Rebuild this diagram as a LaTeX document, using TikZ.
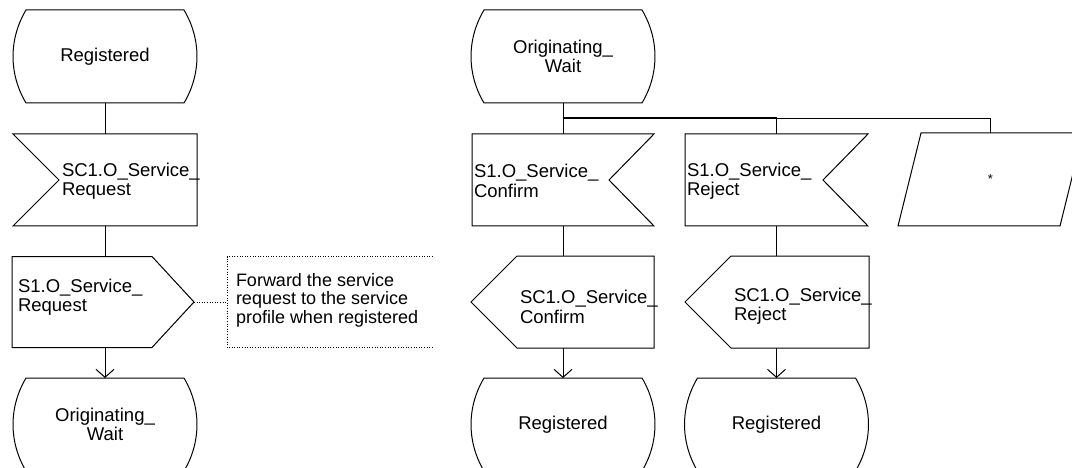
\documentclass[tikz,border=0pt]{standalone}
\usepackage{fontspec}
\setmainfont{Liberation Sans}
\usetikzlibrary{arrows.meta}
\newcommand\sdlfont{\fontsize{18.5}{19.5}\selectfont}
\newcommand\sdlcfont{\fontsize{18}{18.5}\selectfont}
\tikzset{
  ln/.style={line width=1pt},
  arr/.style={ln,-{Straight Barb[length=8pt,width=18pt,line width=1pt]}},
  box/.style={inner sep=0pt, outer sep=0pt},
  txt/.style={inner sep=0pt, outer sep=0pt, font=\sdlfont, align=left, anchor=west},
  sdlstate/.style={box, align=center, font=\sdlfont,
    append after command={\pgfextra{\draw[ln] (\tikzlastnode.north east)
      .. controls +(17.3,29) and +(17.3,-29) .. (\tikzlastnode.south east)
      -- (\tikzlastnode.south west)
      .. controls +(-17.3,-29) and +(-17.3,29) .. (\tikzlastnode.north west) -- cycle;}}},
  inputL/.style={box,
    append after command={\pgfextra{\draw[ln] (\tikzlastnode.north west) -- (\tikzlastnode.north east)
      -- (\tikzlastnode.south east) -- (\tikzlastnode.south west)
      -- ([xshift=46pt]\tikzlastnode.west) -- cycle;}}},
  inputR/.style={box,
    append after command={\pgfextra{\draw[ln] (\tikzlastnode.north west) -- (\tikzlastnode.north east)
      -- ([xshift=-45pt]\tikzlastnode.east) -- (\tikzlastnode.south east)
      -- (\tikzlastnode.south west) -- cycle;}}},
  outputR/.style={box,
    append after command={\pgfextra{\draw[ln] (\tikzlastnode.north west) -- ([xshift=-42pt]\tikzlastnode.north east)
      -- (\tikzlastnode.east) -- ([xshift=-42pt]\tikzlastnode.south east)
      -- (\tikzlastnode.south west) -- cycle;}}},
  outputL/.style={box,
    append after command={\pgfextra{\draw[ln] (\tikzlastnode.west) -- ([xshift=46pt]\tikzlastnode.north west)
      -- (\tikzlastnode.north east) -- (\tikzlastnode.south east)
      -- ([xshift=46pt]\tikzlastnode.south west) -- cycle;}}},
  commentbox/.style={box,
    append after command={\pgfextra{\draw[line width=0.9pt, dash pattern=on 1pt off 1.6pt] (\tikzlastnode.north east) -- (\tikzlastnode.north west)
      -- (\tikzlastnode.south west) -- (\tikzlastnode.south east);}}},
  para/.style={box, font=\fontsize{13}{14}\selectfont,
    append after command={\pgfextra{\draw[ln] ([xshift=23pt]\tikzlastnode.north west) -- (\tikzlastnode.north east)
      -- ([xshift=-23pt]\tikzlastnode.south east) -- (\tikzlastnode.south west) -- cycle;}}},
}
\begin{document}
\begin{tikzpicture}[x=1pt,y=-1pt]
\useasboundingbox (0,0) rectangle (1072,468);
% left column
\node[sdlstate, minimum width=158pt, minimum height=93pt] (s1) at (105,56.5) {Registered};
\node[inputL, minimum width=184pt, minimum height=92pt] (i1) at (105,180) {};
\node[txt] (i1t) at (62,181) {SC1.O\_Service\_\\Request};
\node[outputR, minimum width=182pt, minimum height=91pt] (o1) at (103,302) {};
\node[txt] (o1t) at (18,297) {S1.O\_Service\_\\Request};
\node[commentbox, minimum width=206pt, minimum height=91pt] (c1) at (330,302) {};
\node[txt, font=\sdlcfont] (c1t) at (236,300) {Forward the service\\request to the service\\profile when registered};
\node[sdlstate, minimum width=158pt, minimum height=93pt] (s3) at (105,424.5) {Originating\_\\Wait};
\draw[ln] (s1.south) -- (i1.north);
\draw[ln] (i1.south) -- (i1.south |- o1.north);
\draw[line width=0.9pt, dash pattern=on 1pt off 1.6pt] (o1.east) -- (c1.west);
\draw[arr] (o1.south -| s3.north) -- (s3.north);
% right part
\node[sdlstate, minimum width=158pt, minimum height=93pt] (s2) at (563,56.5) {Originating\_\\Wait};
\node[inputR, minimum width=182pt, minimum height=92pt] (i2) at (563,180) {};
\node[txt] (i2t) at (474,181) {S1.O\_Service\_\\Confirm};
\node[inputR, minimum width=183pt, minimum height=92pt] (i3) at (776.5,180) {};
\node[txt] (i3t) at (687,181) {S1.O\_Service\_\\Reject};
\node[para, minimum width=185pt, minimum height=93pt] (p) at (990.5,179.5) {*};
\node[outputL, minimum width=183pt, minimum height=92pt] (o2) at (562.5,302) {};
\node[txt] (o2t) at (520,307) {SC1.O\_Service\_\\Confirm};
\node[outputL, minimum width=184pt, minimum height=92pt] (o3) at (777,302) {};
\node[txt] (o3t) at (734,306) {SC1.O\_Service\_\\Reject};
\node[sdlstate, minimum width=158pt, minimum height=93pt] (s4) at (563,424.5) {Registered};
\node[sdlstate, minimum width=158pt, minimum height=93pt] (s5) at (776.5,424.5) {Registered};
\coordinate (j1) at (563,117.3);
\coordinate (j2) at (563,118.5);
\draw[ln] (s2.south) -- (i2.north);
\draw[ln] (j1) -| (i3.north);
\draw[ln] (j2) -| (p.north);
\draw[ln] (i2.south) -- (i2.south |- o2.north);
\draw[ln] (i3.south) -- (i3.south |- o3.north);
\draw[arr] (o2.south -| s4.north) -- (s4.north);
\draw[arr] (o3.south -| s5.north) -- (s5.north);
\end{tikzpicture}
\end{document}
